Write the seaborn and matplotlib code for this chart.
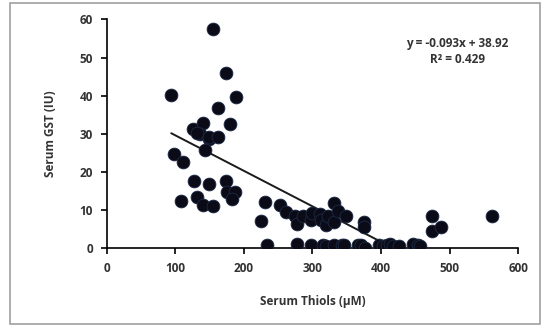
import numpy as np
import pandas as pd
import seaborn as sns
import matplotlib.pyplot as plt
from matplotlib.patches import Rectangle

# values
thiols = [94, 155.5, 174.6, 188.7, 162.6, 125.8, 140.4, 135.9, 131, 149, 149.5, 162, 180,
          143.4, 97.6, 111.7, 127.3, 149.5, 174.6, 176, 187.2, 182.1, 131, 107.7, 140.9, 155.5,
          230.5, 225, 233, 253, 260.7, 274, 277.8, 286, 298, 299.4, 310.5, 313, 319.2, 323,
          331, 331, 337.6, 348.3, 374.9, 374.9, 277.8, 298, 315.5, 319.2, 331, 343, 346,
          366.4, 371, 376, 397.6, 402.6, 408.7, 412.7, 417.2, 426.3, 446.4, 454, 457.5,
          475, 475, 487.7, 562]
gst = [40.2, 57.4, 46, 39.6, 36.9, 31.3, 32.8, 30, 30.3, 28.6, 29.3, 29.1, 32.6,
       25.8, 24.8, 22.7, 17.7, 16.9, 17.7, 14.9, 14.7, 13, 13.4, 12.5, 11.5, 11,
       12.2, 7.2, 1, 11.3, 9.5, 8.4, 6.4, 8.4, 7.5, 9.2, 9.1, 7.5, 6.1, 8.4,
       11.8, 6.8, 9.9, 8.4, 6.9, 5.7, 1.2, 0.8, 0.8, 0.5, 0.8, 1, 0.8,
       0.8, 1, 0.2, 0.8, 0.5, 0.8, 1.2, 0.5, 0.5, 1.2, 1, 0.5,
       8.4, 4.6, 5.7, 8.4]

slope = -0.093
intercept = 38.92
r2 = 0.429
trend_x = [94, 396]

df = pd.DataFrame({"thiols": thiols, "gst": gst})
trend = pd.DataFrame({"x": trend_x})
trend["y"] = slope * trend["x"] + intercept

sns.set_style("white")
plt.rcParams['font.family'] = ['Open Sans', 'DejaVu Sans']
text_color = '#333333'

fig = plt.figure(figsize=(5.42, 3.29), dpi=100)
fig.patches.append(Rectangle((0.018, 0.015), 0.978, 0.977, transform=fig.transFigure,
                             fill=False, edgecolor='#a0a0a0', linewidth=1.2))
ax = fig.add_axes([0.197, 0.245, 0.759, 0.696])

sns.scatterplot(data=df, x="thiols", y="gst", ax=ax, s=85, color='#0b0b18',
                edgecolor='#1c2a44', linewidth=0.6, zorder=3)
sns.lineplot(data=trend, x="x", y="y", ax=ax, color='#1a1a1a', linewidth=1.4, zorder=2)

ax.set_xlim(0, 600)
ax.set_ylim(0, 60)
ax.set_xticks(range(0, 601, 100))
ax.set_yticks(range(0, 61, 10))
sns.despine(ax=ax)
for side in ['left', 'bottom']:
    ax.spines[side].set_color('black')
    ax.spines[side].set_linewidth(1.2)
ax.tick_params(axis='both', direction='out', length=4, width=1.2, color='black',
               labelsize=8.5, labelcolor=text_color, pad=6, bottom=True, left=True)
for lbl in ax.get_xticklabels() + ax.get_yticklabels():
    lbl.set_fontweight('bold')

ax.set_xlabel('Serum Thiols (μM)', fontsize=8.5, color=text_color, fontweight='bold', labelpad=14)
ax.set_ylabel('Serum GST (IU)', fontsize=8.5, color=text_color, fontweight='bold', labelpad=16)

ax.text(0.852, 0.925, f'y = {slope}x + {intercept}\nR² = {r2}', transform=ax.transAxes,
        ha='center', va='top', fontsize=8.5, color=text_color, fontweight='bold',
        linespacing=1.3)

fig.savefig('out.png', dpi=100)
